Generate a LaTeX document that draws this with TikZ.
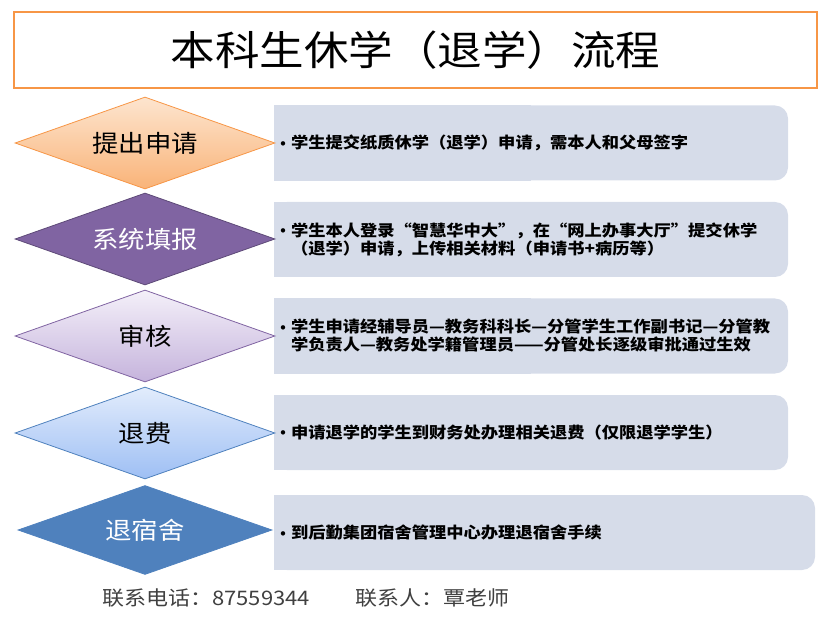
\documentclass[tikz,border=0pt]{standalone}
\usepackage{fontspec}
\setmainfont{Noto Sans CJK SC}[FakeStretch=1.1]
\newfontfamily\dotfont{DejaVu Sans}
\usepackage{xcolor}
\usetikzlibrary{positioning, shapes.geometric}

\definecolor{titleorange}{HTML}{F79646}
\definecolor{boxgrey}{HTML}{D6DCE9}
\definecolor{peachtop}{HTML}{FDE5CF}
\definecolor{peachbot}{HTML}{F9B378}
\definecolor{plum}{HTML}{8064A2}
\definecolor{plumdark}{HTML}{5E4A78}
\definecolor{lilactop}{HTML}{F4F0F9}
\definecolor{lilacbot}{HTML}{C5B3DC}
\definecolor{skytop}{HTML}{E2ECFC}
\definecolor{skybot}{HTML}{9EBFF4}
\definecolor{steel}{HTML}{4F81BD}
\definecolor{footgrey}{HTML}{404040}

\newcommand{\dotmark}{\llap{\raisebox{0.5pt}{\dotfont\fontsize{12.5}{12.5}\selectfont •}\hspace{4pt}}}

\tikzset{
  titlebox/.style={rectangle, draw=titleorange, line width=2pt, fill=white, minimum width=803pt, minimum height=76pt, inner sep=0pt, font=\fontsize{40.5}{40.5}\selectfont},
  stepdia/.style={diamond, aspect=2.83, minimum width=260pt, minimum height=92pt, inner sep=0pt, line width=0.8pt, font=\fontsize{24}{24}\selectfont},
  askdia/.style={draw=titleorange, top color=peachtop, bottom color=peachbot},
  sysdia/.style={draw=plumdark, fill=plum, text=white},
  checkdia/.style={draw=plum, top color=lilactop, bottom color=lilacbot},
  refunddia/.style={draw=steel, top color=skytop, bottom color=skybot},
  dormdia/.style={draw=steel, fill=steel, text=white, minimum width=254pt, minimum height=89pt},
  infobox/.style={rectangle, rounded corners=13pt, fill=boxgrey, minimum width=514pt, minimum height=75pt, inner sep=0pt},
  infotext/.style={anchor=west, inner sep=0pt, text width=505pt, align=left, font=\bfseries\fontsize{15.7}{18}\selectfont},
  foottext/.style={anchor=west, inner sep=0pt, text=footgrey, font=\fontsize{20}{20}\selectfont}
}

\begin{document}
\begin{tikzpicture}[x=1pt, y=-1pt]
\useasboundingbox (0,0) rectangle (828,639);
\node[titlebox] (title) at (415.5,50) {本科生休学（退学）流程}; % heading
\foreach \n/\y in {1/143, 2/239.5, 3/336, 4/432.5}{
  \node[infobox] (box\n) at (531,\y) {};
  \fill[boxgrey] (box\n.north west) rectangle (box\n.south); % square left side
}
\node[infobox, minimum width=541pt] (box5) at (544.5,532.5) {};
\fill[boxgrey] (box5.north west) rectangle (box5.south);
\foreach \n/\y/\kind/\lbl in {1/143/askdia/提出申请, 2/239/sysdia/系统填报, 3/336/checkdia/审核, 4/433/refunddia/退费, 5/530/dormdia/退宿舍}{
  \node[stepdia, \kind] (d\n) at (145,\y) {\lbl};
}
\node[infotext] (txt1) at ([xshift=17pt]box1.west) {\dotmark 学生提交纸质休学（退学）申请，需本人和父母签字};
\node[infotext] (txt2) at ([xshift=17pt]box2.west) {\dotmark 学生本人登录“智慧华中大”，在“网上办事大厅”提交休学\\（退学）申请，上传相关材料（申请书+病历等）};
\node[infotext] (txt3) at ([xshift=17pt]box3.west) {\dotmark 学生申请经辅导员—教务科科长—分管学生工作副书记—分管教\\学负责人—教务处学籍管理员——分管处长逐级审批通过生效};
\node[infotext] (txt4) at ([xshift=17pt]box4.west) {\dotmark 申请退学的学生到财务处办理相关退费（仅限退学学生）};
\node[infotext] (txt5) at ([xshift=17pt]box5.west) {\dotmark 到后勤集团宿舍管理中心办理退宿舍手续};
\node[foottext] (phone) at (102,598) {联系电话：87559344}; % footer
\node[foottext] (contact) at (355,598) {联系人：覃老师};
\end{tikzpicture}
\end{document}
